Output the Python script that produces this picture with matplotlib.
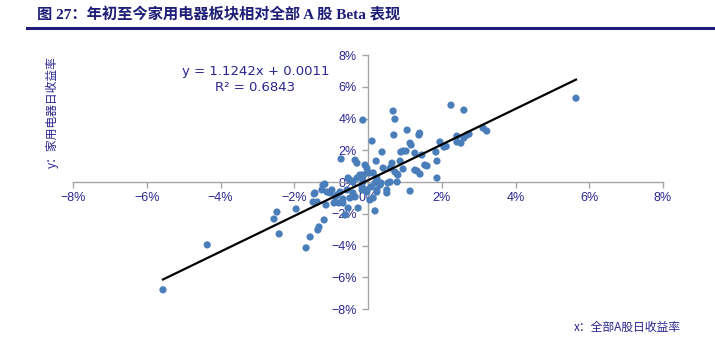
import numpy as np
import matplotlib
matplotlib.use('Agg')
import matplotlib.pyplot as plt
from matplotlib.ticker import FuncFormatter

# daily returns, in percent: whole A-share market (x) vs household appliances (y)
market_ret = [
    -5.56, -4.36, -2.47, -2.55, -2.41, -1.95, -1.68, -1.57, -1.36, -1.33,
    -1.19, -1.14, -0.92, -0.68, -0.62, -0.27, 0.19, -1.49, -1.44, -1.25,
    -1.22, -1.11, -1.03, -0.89, -0.76, -0.57, -0.49, -0.35, -0.16, -0.03,
    0.05, 0.14, 0.24, 0.33, 0.51, 0.60, 0.79, 0.81, 1.14, 1.87,
    -0.54, -0.41, -0.30, -0.22, 0.68, 0.73, -0.14, 0.11, -0.73, -0.35,
    -0.30, -0.08, -0.03, 0.22, 0.38, 0.70, 1.06, 1.38, 1.40, 1.17,
    0.89, 0.95, 1.03, 1.27, 1.46, 0.87, 0.65, 0.41, 0.60, 0.73,
    0.79, 0.95, 1.27, 1.41, 1.60, 1.84, 1.87, 1.95, 2.06, -1.17,
    -0.16, 0.05, 0.24, 0.54, 0.33, 2.25, 2.60, 5.64, 3.12, 3.22,
    2.41, 2.68, 2.74, 2.60, 2.41, 2.52, 2.12, 1.54, 1.14, 1.33,
    0.14, -1.46, -0.98, -0.84, -0.79, -0.68, -0.41, -0.14, -0.03, -0.14,
    -0.49, -0.16, -0.03, 0.08, 0.19, 0.24, 0.35, 0.51, -0.54, -1.38,
]
sector_ret = [
    -6.79, -3.96, -1.89, -2.33, -3.27, -1.70, -4.15, -3.46, -3.02, -2.83,
    -2.39, -1.45, -1.32, -1.32, -2.08, -1.64, -1.82, -1.26, -0.69, -0.50,
    -0.19, -0.63, -0.69, -0.94, -0.63, -0.50, -1.01, -0.94, -0.50, -0.63,
    -1.13, -1.01, -0.63, -0.19, -0.69, 0.00, 0.00, 0.44, -0.57, 0.25,
    0.25, 0.00, 0.25, 0.44, 4.47, 3.96, 3.90, 2.58, 1.45, 1.38,
    1.19, 1.07, 0.88, 1.32, 1.89, 2.96, 3.27, 2.96, 3.08, 2.33,
    1.89, 1.95, 1.95, 1.82, 1.70, 1.32, 1.19, 0.88, 0.88, 0.63,
    0.50, 0.82, 0.75, 0.50, 1.01, 1.89, 1.32, 2.52, 2.20, -0.13,
    0.44, 0.57, 0.25, -0.06, -0.06, 4.84, 4.53, 5.28, 3.40, 3.21,
    2.89, 2.96, 3.02, 2.77, 2.52, 2.45, 2.24, 1.07, 2.45, 0.69,
    0.57, -0.75, -0.50, -0.82, -1.32, -1.07, -0.69, 0.31, 0.57, 0.00,
    0.13, -0.31, -0.50, -0.31, -0.06, -0.50, -0.06, -0.50, -1.64, -1.26,
]
slope = 1.1242
intercept = 0.0011
r_squared = 0.6843
ticks = [-8, -6, -4, -2, 0, 2, 4, 6, 8]

title = '图 27：年初至今家用电器板块相对全部 A 股 Beta 表现'
x_label = 'x：全部A股日收益率'
y_label = 'y：家用电器日收益率'

navy = '#1E1E78'
label_c = '#2A2590'
dot_c = '#4A7EBB'
axis_c = '#A6A6A6'
cjk = ['Noto Sans CJK SC', 'DejaVu Sans']
num_font = ['Liberation Sans Narrow', 'Liberation Sans', 'DejaVu Sans']

fig = plt.figure(figsize=(7.15, 3.49), dpi=100)
fig.text(0.052, 0.957, title, fontsize=11, fontweight='bold', color=navy,
         family=['Liberation Serif', 'Noto Sans CJK SC'], va='center', ha='left')
fig.add_artist(plt.Line2D([0.038, 1.0], [0.92, 0.92], color=navy, lw=2.2))

ax = fig.add_axes([0.1021, 0.1146, 0.8252, 0.7278])
x = np.array(market_ret) / 100
y = np.array(sector_ret) / 100
ax.scatter(x, y, s=27, color=dot_c, edgecolors='none', zorder=3)

# fitted trend line over the observed x range
xs = np.array([min(x), max(x)])
ax.plot(xs, slope * xs + intercept, color='black', lw=1.6, zorder=4)

ax.set_xlim(-0.08, 0.08)
ax.set_ylim(-0.08, 0.08)
tv = [t / 100 for t in ticks]
ax.set_xticks(tv)
ax.set_yticks(tv)
fmt = FuncFormatter(lambda v, p: '{:.0f}%'.format(v * 100).replace('-', '\u2212'))
ax.xaxis.set_major_formatter(fmt)
ax.yaxis.set_major_formatter(fmt)

for s in ['top', 'right']:
    ax.spines[s].set_visible(False)
for s in ['left', 'bottom']:
    ax.spines[s].set_position(('data', 0))
    ax.spines[s].set_color(axis_c)
    ax.spines[s].set_linewidth(1.0)
ax.tick_params(direction='out', length=4, width=1, color=axis_c,
               labelcolor=label_c, labelsize=9)
ax.tick_params(axis='x', pad=3)
ax.tick_params(axis='y', pad=4)
for lab in ax.get_xticklabels() + ax.get_yticklabels():
    lab.set_family(num_font)
ax.patch.set_visible(False)

eq = 'y = {:.4f}x + {:.4f}'.format(slope, intercept)
ax.text(-0.0305, 0.0695, eq, ha='center', va='center',
        color=label_c, fontsize=9.5, family=['DejaVu Sans'])
ax.text(-0.0305, 0.0595, 'R² = {:.4f}'.format(r_squared), ha='center', va='center',
        color=label_c, fontsize=9.5, family=['DejaVu Sans'])

fig.text(0.073, 0.68, y_label, rotation=90, ha='center', va='center',
         color=label_c, fontsize=8.5, family=cjk)
fig.text(0.877, 0.063, x_label, ha='center', va='center',
         color=label_c, fontsize=8.5, family=cjk)

fig.savefig('out.png', dpi=100)
